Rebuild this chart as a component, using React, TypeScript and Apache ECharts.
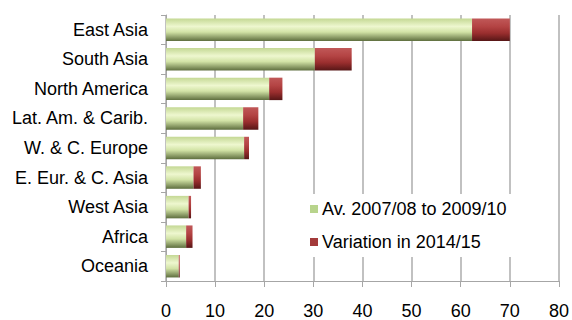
import React, { useEffect, useRef } from "react";
import * as echarts from "echarts";

const categories = [
  "East Asia",
  "South Asia",
  "North America",
  "Lat. Am. & Carib.",
  "W. & C. Europe",
  "E. Eur. & C. Asia",
  "West Asia",
  "Africa",
  "Oceania",
];
const averageValues = [62.3, 30.3, 21.0, 15.7, 15.9, 5.6, 4.6, 4.1, 2.6];
const variationValues = [7.7, 7.5, 2.7, 3.1, 1.0, 1.5, 0.5, 1.3, 0.2];
const seriesNames = ["Av. 2007/08 to 2009/10", "Variation in 2014/15"];

const FONT = "Liberation Sans, Arial, sans-serif";

export default function App() {
  const ref = useRef<HTMLDivElement>(null);
  useEffect(() => {
    if (!ref.current) return;
    const chart = echarts.init(ref.current, null, { renderer: "svg" });
    const greenGrad = new echarts.graphic.LinearGradient(0, 0, 0, 1, [
      { offset: 0, color: "#c4d894" },
      { offset: 0.35, color: "#eef7cf" },
      { offset: 0.6, color: "#d2e3a6" },
      { offset: 1, color: "#5e6e3e" },
    ]);
    const redGrad = new echarts.graphic.LinearGradient(0, 0, 0, 1, [
      { offset: 0, color: "#c05858" },
      { offset: 0.35, color: "#b44444" },
      { offset: 0.65, color: "#9a2e2e" },
      { offset: 1, color: "#561616" },
    ]);
    chart.setOption({
      animation: false,
      textStyle: { fontFamily: FONT },
      grid: { left: 166, right: 9, top: 15, bottom: 33, containLabel: false },
      legend: {
        orient: "vertical",
        left: 306,
        top: 194,
        backgroundColor: "#ffffff",
        padding: [6, 6, 6, 4],
        itemWidth: 8,
        itemHeight: 8,
        itemGap: 15,
        icon: "rect",
        textStyle: { fontSize: 18, color: "#000", fontFamily: FONT, padding: [0, 0, 0, -1] },
        data: [
          { name: seriesNames[0], itemStyle: { color: "#b8d48c" } },
          { name: seriesNames[1], itemStyle: { color: "#a33a3a" } },
        ],
      },
      xAxis: {
        type: "value",
        min: 0,
        max: 80,
        interval: 10,
        axisLine: { show: true, lineStyle: { color: "#a6a6a6", width: 1 } },
        axisTick: { show: true, length: 6, lineStyle: { color: "#a6a6a6" } },
        splitLine: { show: true, lineStyle: { color: "#adadad", width: 1.5 } },
        axisLabel: { fontSize: 18, color: "#000", margin: 21, fontFamily: FONT },
      },
      yAxis: {
        type: "category",
        data: categories,
        inverse: true,
        axisLine: { show: true, lineStyle: { color: "#a6a6a6", width: 1 } },
        axisTick: { show: true, length: 5, lineStyle: { color: "#a6a6a6" } },
        axisLabel: { fontSize: 18, color: "#000", margin: 18, fontFamily: FONT },
      },
      series: [
        {
          name: seriesNames[0],
          type: "bar",
          stack: "total",
          barCategoryGap: "24%",
          data: averageValues,
          itemStyle: { color: greenGrad },
        },
        {
          name: seriesNames[1],
          type: "bar",
          stack: "total",
          barCategoryGap: "24%",
          data: variationValues,
          itemStyle: { color: redGrad },
        },
      ],
    });
    return () => chart.dispose();
  }, []);
  return (
    <div
      ref={ref}
      style={{ width: 572, height: 320, position: "absolute", left: 0, top: 0, background: "#fff" }}
    />
  );
}
